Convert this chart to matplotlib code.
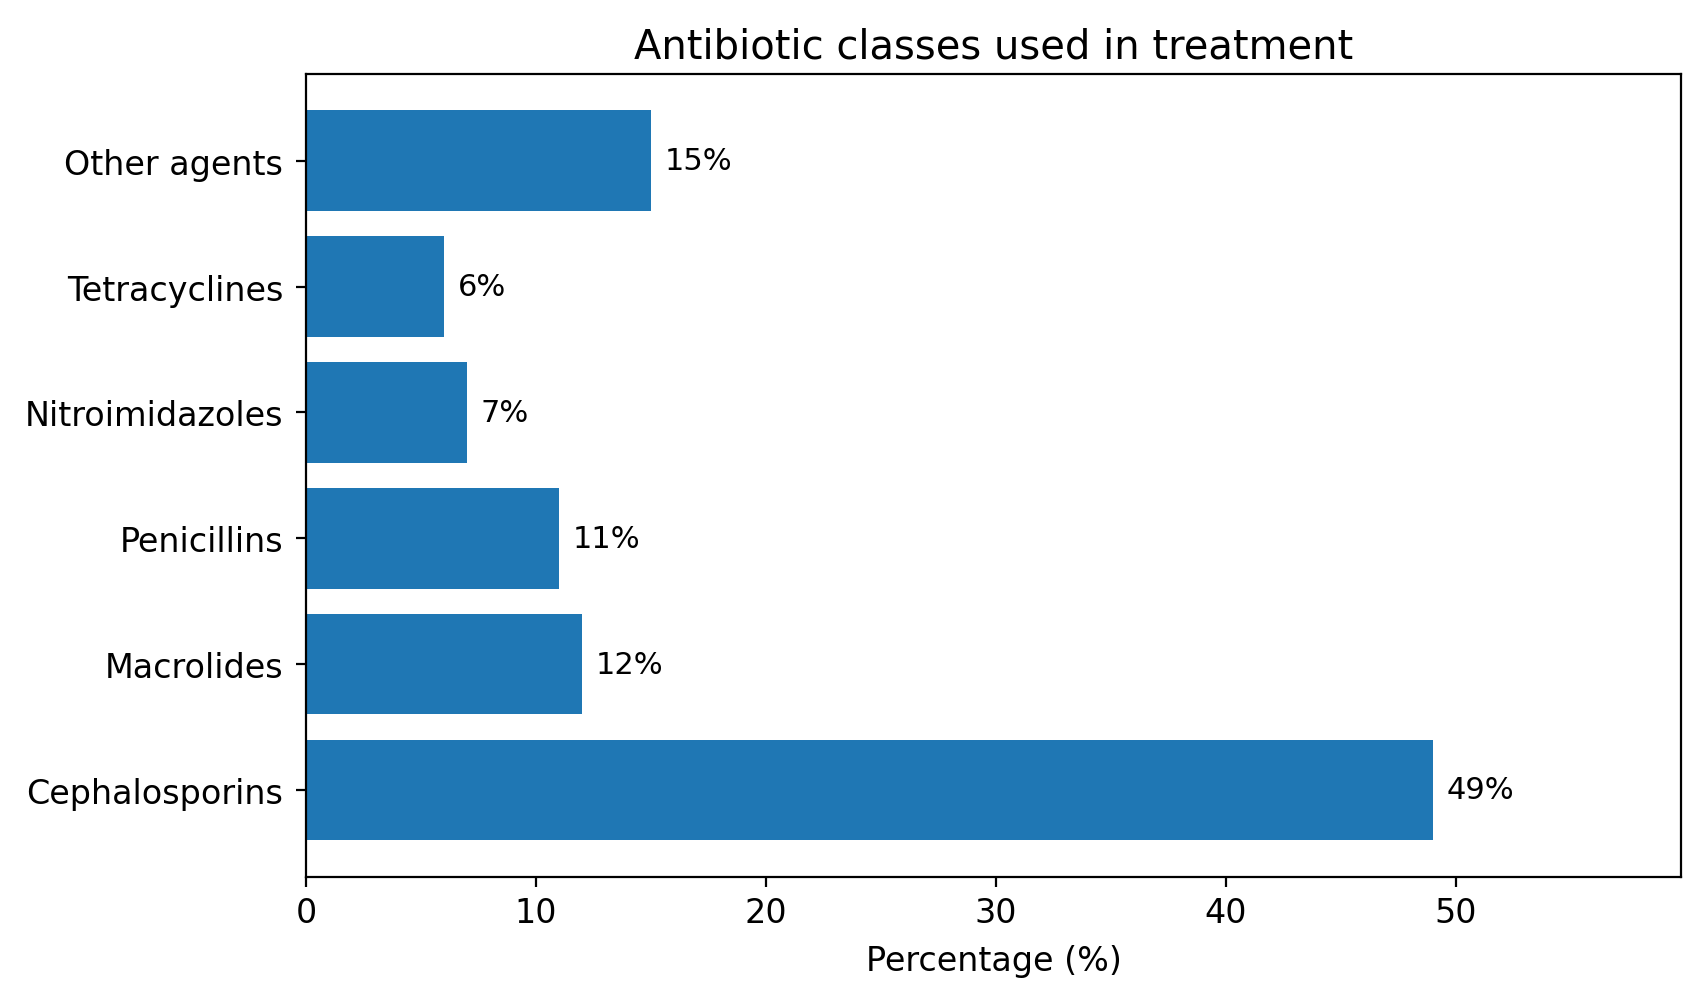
import matplotlib
matplotlib.use("Agg")
import matplotlib.pyplot as plt

classes = ["Cephalosporins", "Macrolides", "Penicillins", "Nitroimidazoles", "Tetracyclines", "Other agents"]
percent = [49, 12, 11, 7, 6, 15]

fig, ax = plt.subplots(figsize=(8.515, 5.02), dpi=200)
fig.subplots_adjust(left=0.1797, right=0.9871, bottom=0.1258, top=0.9253)

bars = ax.barh(classes, percent, color="#1f77b4")
for b, v in zip(bars, percent):
    ax.text(b.get_width() + 0.6, b.get_y() + b.get_height() / 2, f"{v}%",
            va="center", ha="left", fontsize=11)

ax.set_xlim(0, max(percent) * 1.22)
ax.set_xlabel("Percentage (%)", fontsize=12, labelpad=5.5)
ax.set_title("Antibiotic classes used in treatment", fontsize=14.4)
ax.tick_params(axis="x", labelsize=12)
ax.tick_params(axis="y", labelsize=12, pad=4.7)

fig.savefig("out.png", dpi=200)
